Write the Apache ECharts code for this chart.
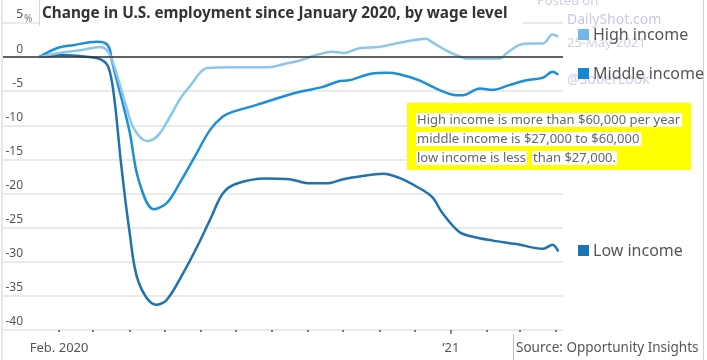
<!DOCTYPE html>
<html>
<head>
<meta charset="utf-8">
<script src="https://cdn.jsdelivr.net/npm/echarts@6/dist/echarts.min.js"></script>
<style>html,body{margin:0;padding:0;background:#fff;}#c{width:707px;height:360px;}</style>
</head>
<body>
<div id="c"></div>
<script>
const titleText = 'Change in U.S. employment since January 2020, by wage level';
const seriesNames = ['High income', 'Middle income', 'Low income'];
const yTicks = [-40, -35, -30, -25, -20, -15, -10, -5, 0, 5];
const xTickDates = ['2020-02-01','2020-03-01','2020-04-01','2020-05-01','2020-06-01','2020-07-01','2020-08-01','2020-09-01','2020-10-01','2020-11-01','2020-12-01','2021-01-01','2021-02-01','2021-03-01','2021-04-01'];
const xLabelDates = ['2020-02-01', '2021-01-01'];
const xLabelTexts = ['Feb. 2020', '\u201921'];
const xRange = ['2019-12-15', '2021-04-07'];

const highDates = ['2020-01-15','2020-02-01','2020-02-19','2020-03-07','2020-03-13','2020-03-18','2020-03-23','2020-03-29','2020-04-05','2020-04-16','2020-04-25','2020-05-05','2020-05-15','2020-05-25','2020-06-01','2020-06-07','2020-06-29','2020-07-28','2020-08-14','2020-08-25','2020-09-08','2020-09-22','2020-10-01','2020-10-15','2020-11-01','2020-11-18','2020-12-11','2020-12-16','2020-12-28','2021-01-08','2021-01-14','2021-02-12','2021-02-18','2021-03-01','2021-03-12','2021-03-21','2021-03-29','2021-04-03'];
const highValues = [0,0.6,1.0,1.5,1.0,-0.8,-3.5,-7,-10.5,-12.3,-11.6,-9,-6,-3.8,-2.2,-1.6,-1.5,-1.5,-0.9,-0.5,0.3,0.8,0.6,1.3,1.5,2.1,2.7,2.2,1.0,0.15,-0.2,-0.2,0.6,1.8,2.0,2.0,3.3,3.0];

const middleDates = ['2020-01-15','2020-01-30','2020-02-13','2020-03-04','2020-03-11','2020-03-15','2020-03-17','2020-04-01','2020-04-09','2020-04-22','2020-05-03','2020-05-14','2020-05-29','2020-06-09','2020-06-20','2020-06-29','2020-07-19','2020-08-10','2020-08-27','2020-09-13','2020-09-28','2020-10-06','2020-10-26','2020-11-07','2020-11-18','2020-12-05','2020-12-22','2021-01-06','2021-01-11','2021-01-26','2021-02-06','2021-02-20','2021-03-07','2021-03-21','2021-03-29','2021-04-03'];
const middleValues = [0,1.3,1.75,2.25,2.1,1.3,-0.4,-10.7,-18,-22.3,-21.4,-18.5,-14,-10.7,-8.7,-8.0,-7.0,-5.8,-5.0,-4.4,-3.5,-3.4,-2.4,-2.3,-2.5,-3.4,-4.8,-5.6,-5.6,-4.6,-4.8,-4.1,-3.4,-3.0,-2.15,-2.6];

const lowDates = ['2020-01-15','2020-02-04','2020-02-27','2020-03-07','2020-03-14','2020-03-19','2020-03-25','2020-04-01','2020-04-09','2020-04-24','2020-05-03','2020-05-17','2020-05-29','2020-06-10','2020-06-20','2020-07-01','2020-07-27','2020-08-16','2020-09-02','2020-09-17','2020-10-01','2020-10-15','2020-11-04','2020-11-18','2020-12-03','2020-12-16','2020-12-25','2021-01-08','2021-01-19','2021-02-06','2021-02-26','2021-03-21','2021-03-29','2021-04-03'];
const lowValues = [0,0.3,0,-0.3,-1.4,-5.8,-15.6,-25.3,-33,-36.3,-35.6,-31.7,-27.8,-23.5,-20,-18.6,-17.8,-17.9,-18.5,-18.5,-17.9,-17.5,-17.1,-17.7,-19,-20.5,-22.9,-25.6,-26.3,-26.9,-27.4,-28.1,-27.5,-28.5];

const noteLines = ['High income is more than $60,000 per year', 'middle income is $27,000 to $60,000', 'low income is less', 'than $27,000.'];
const watermarkTexts = ['Posted on', 'DailyShot.com', '25-May-2021', '@SoberLook'];
const sourceText = 'Source: Opportunity Insights';

const colors = ['#8ac6ec', '#1b8fd8', '#1f72b0'];
const legendColors = ['#6fb9e8', '#1a86d0', '#1a74b6'];
const FONT = '"Noto Sans", sans-serif';

const ORIGIN = Date.UTC(2020, 1, 1);
const day = s => { const p = s.split('-').map(Number); return Math.round((Date.UTC(p[0], p[1] - 1, p[2]) - ORIGIN) / 86400000); };
function pairs(d, v) { return d.map((x, i) => [day(x), v[i]]); }

const chart = echarts.init(document.getElementById('c'), null, {renderer: 'canvas'});
const lineSeries = (name, d, v, c, extra) => Object.assign({
  name, type: 'line', data: pairs(d, v), showSymbol: false, smooth: 0.35,
  lineStyle: {color: c, width: 2.5}, itemStyle: {color: c}, silent: true
}, extra || {});

const labelDays = xLabelDates.map(day);
const xMin = day(xRange[0]), xMax = day(xRange[1]);
const baseX = {type: 'value', position: 'bottom', min: xMin, max: xMax, axisLine: {show: false}, splitLine: {show: false}};
chart.setOption({
  animation: false,
  textStyle: {fontFamily: FONT},
  grid: {left: 3, right: 144, top: 23, bottom: 30},
  xAxis: [
    Object.assign({}, baseX, {
      axisTick: {show: false},
      axisLabel: {
        show: true, margin: 12, color: '#555', fontSize: 13, fontFamily: FONT,
        customValues: labelDays,
        formatter: function (val) {
          const i = labelDays.indexOf(Math.round(val));
          return i >= 0 ? xLabelTexts[i] : '';
        }
      }
    }),
    Object.assign({}, baseX, {
      axisTick: {show: true, length: 2, lineStyle: {color: '#777', width: 2}, customValues: xTickDates.map(day)},
      axisLabel: {show: false, customValues: xTickDates.map(day)}
    }),
    Object.assign({}, baseX, {
      axisTick: {show: true, length: 4, lineStyle: {color: '#777', width: 1.5}, customValues: [day('2021-01-01')]},
      axisLabel: {show: false, customValues: [day('2021-01-01')]}
    })
  ],
  yAxis: {
    type: 'value', min: yTicks[0], max: yTicks[yTicks.length - 1], interval: 5,
    axisLine: {show: false}, axisTick: {show: false},
    splitLine: {lineStyle: {color: '#e3e3e3', width: 1.5}},
    axisLabel: {
      inside: true, margin: 20, align: 'right', verticalAlign: 'bottom',
      padding: [0, 0, 2, 0], color: '#555', fontSize: 12, fontFamily: FONT,
      formatter: v => String(v)
    }
  },
  series: [
    lineSeries(seriesNames[2], lowDates, lowValues, colors[2]),
    lineSeries(seriesNames[1], middleDates, middleValues, colors[1]),
    lineSeries(seriesNames[0], highDates, highValues, colors[0], {
      markLine: {silent: true, symbol: 'none', label: {show: false},
        lineStyle: {color: '#333', width: 1.5, type: 'solid'}, data: [{yAxis: 0}]}
    })
  ],
  graphic: [
    {type: 'line', shape: {x1: 2, y1: 0, x2: 2, y2: 360}, style: {stroke: '#cfcfcf', lineWidth: 1}},
    {type: 'line', shape: {x1: 703.5, y1: 0, x2: 703.5, y2: 360}, style: {stroke: '#cfcfcf', lineWidth: 1}},
    {type: 'text', x: 24, y: 19, z: 12, style: {text: '%', font: '10px ' + FONT, fill: '#777', textVerticalAlign: 'middle'}},
    {type: 'rect', shape: {x: 39, y: 0, width: 484, height: 26}, style: {fill: '#fff'}, z: 10},
    {type: 'line', shape: {x1: 39.5, y1: 0, x2: 39.5, y2: 26}, style: {stroke: '#d6d6d6', lineWidth: 1}, z: 11},
    {type: 'text', x: 42, y: 14, z: 12, style: {text: titleText, font: 'bold 15.3px ' + FONT, fill: '#333', textVerticalAlign: 'middle'}},
    {type: 'text', x: 537, y: 1, z: 5, style: {text: watermarkTexts[0], font: '13px ' + FONT, fill: '#cdd0e6', textVerticalAlign: 'middle'}},
    {type: 'text', x: 567, y: 20, z: 5, style: {text: watermarkTexts[1], font: '14px ' + FONT, fill: '#c6c9e4', textVerticalAlign: 'middle'}},
    {type: 'text', x: 567, y: 43, z: 5, style: {text: watermarkTexts[2], font: '13px ' + FONT, fill: '#cdd0e6', textVerticalAlign: 'middle'}},
    {type: 'text', x: 567, y: 80, z: 5, style: {text: watermarkTexts[3], font: '14px ' + FONT, fill: '#cdd0e6', textVerticalAlign: 'middle'}},
    {type: 'rect', shape: {x: 578, y: 29, width: 11, height: 11}, style: {fill: legendColors[0]}, z: 12},
    {type: 'text', x: 593, y: 35, z: 12, style: {text: seriesNames[0], font: '16px ' + FONT, fill: '#555', textVerticalAlign: 'middle'}},
    {type: 'rect', shape: {x: 578, y: 68, width: 11, height: 11}, style: {fill: legendColors[1]}, z: 12},
    {type: 'text', x: 593, y: 74, z: 12, style: {text: seriesNames[1], font: '16px ' + FONT, fill: '#555', textVerticalAlign: 'middle'}},
    {type: 'rect', shape: {x: 578, y: 245, width: 11, height: 11}, style: {fill: legendColors[2]}, z: 12},
    {type: 'text', x: 593, y: 251, z: 12, style: {text: seriesNames[2], font: '16px ' + FONT, fill: '#555', textVerticalAlign: 'middle'}},
    {type: 'rect', shape: {x: 407, y: 103, width: 284, height: 67}, style: {fill: '#ffff00'}, z: 12},
    {type: 'text', x: 416, y: 120, z: 13, style: {text: noteLines[0], font: '13px ' + FONT, fill: '#666', textVerticalAlign: 'middle', backgroundColor: '#fff', padding: [1, 2, 0, 1]}},
    {type: 'text', x: 416, y: 139, z: 13, style: {text: noteLines[1], font: '13px ' + FONT, fill: '#666', textVerticalAlign: 'middle', backgroundColor: '#fff', padding: [1, 2, 0, 1]}},
    {type: 'text', x: 416, y: 158, z: 13, style: {text: noteLines[2], font: '13px ' + FONT, fill: '#666', textVerticalAlign: 'middle', backgroundColor: '#fff', padding: [1, 1, 0, 1]}},
    {type: 'text', x: 532, y: 158, z: 13, style: {text: noteLines[3], font: '13px ' + FONT, fill: '#666', textVerticalAlign: 'middle', backgroundColor: '#fff', padding: [1, 1, 0, 1]}},
    {type: 'line', shape: {x1: 513.5, y1: 334, x2: 513.5, y2: 360}, style: {stroke: '#bbb', lineWidth: 1}},
    {type: 'text', x: 516, y: 348, style: {text: sourceText, font: '13.5px ' + FONT, fill: '#555', textVerticalAlign: 'middle'}}
  ]
});
</script>
</body>
</html>
